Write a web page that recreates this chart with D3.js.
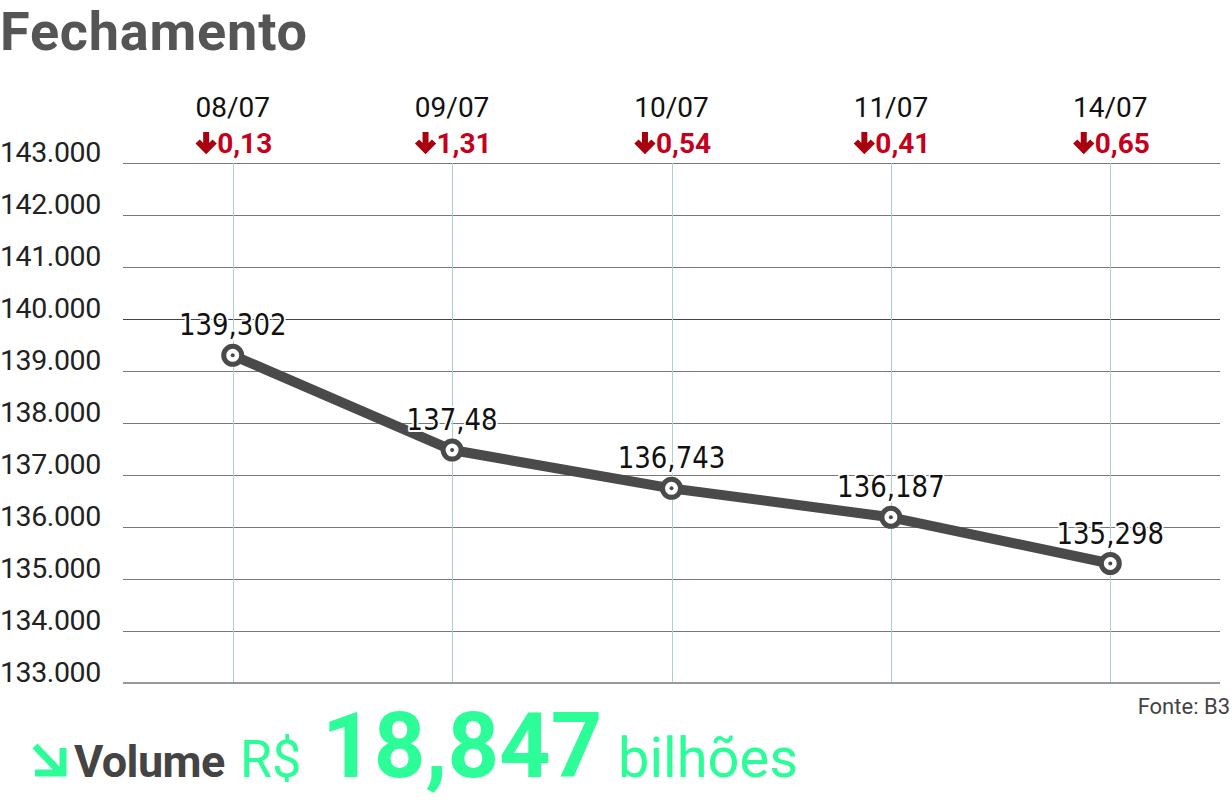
<!DOCTYPE html>
<html><head><meta charset="utf-8">
<script src="https://cdn.jsdelivr.net/npm/d3@7"></script>
<style>
html,body{margin:0;padding:0;background:#fff;}
svg{display:block;}
</style></head>
<body>
<script>
const title = "Fechamento";
const dates = ["08/07","09/07","10/07","11/07","14/07"];
const changes = ["0,13","1,31","0,54","0,41","0,65"];
const closes = [139302, 137480, 136743, 136187, 135298];
const yTicks = [133000,134000,135000,136000,137000,138000,139000,140000,141000,142000,143000];
const source = "Fonte: B3";
const volumeLabel = "Volume";
const volumeCurrency = "R$";
const volumeValue = "18,847";
const volumeUnit = "bilhões";

const W = 1232, H = 803;
const loc = d3.formatLocale({decimal:",", thousands:".", grouping:[3], currency:["R$",""]});
const fmtTick = loc.format(",d");
const fmtPt = loc.format(".3~f");

const svg = d3.select("body").append("svg").attr("width",W).attr("height",H);
const x = d3.scalePoint().domain(dates).range([123,1220]).padding(0.5);
const y = d3.scaleLinear().domain([133000,143000]).range([683,163]);

// title
svg.append("text").attr("x",0).attr("y",50).text(title)
  .attr("font-family","Roboto").attr("font-weight",700).attr("font-size",54)
  .attr("letter-spacing",0.8).attr("fill","#555");

// horizontal grid
const g = svg.append("g");
g.selectAll("line.h").data(yTicks.filter(d=>d>133000)).join("line")
  .attr("x1",123).attr("x2",1220).attr("y1",d=>Math.round(y(d))+0.5).attr("y2",d=>Math.round(y(d))+0.5)
  .attr("stroke",d=>d===140000?"#444":"#777").attr("stroke-width",1);
// vertical grid
g.selectAll("line.v").data(dates).join("line")
  .attr("x1",d=>Math.round(x(d))+0.5).attr("x2",d=>Math.round(x(d))+0.5)
  .attr("y1",y(143000)).attr("y2",y(133000))
  .attr("stroke","#a9d3c9").attr("stroke-width",1);
// bottom axis line
g.append("line").attr("x1",123).attr("x2",1220).attr("y1",y(133000)).attr("y2",y(133000))
  .attr("stroke","#999").attr("stroke-width",2);

// y tick labels
g.selectAll("text.yt").data(yTicks).join("text")
  .attr("x",0).attr("y",d=>y(d)-1).text(d=>fmtTick(d))
  .attr("font-family","Roboto").attr("font-size",28.5).attr("letter-spacing",-0.4).attr("fill","#222");

// date header
const hdr = svg.append("g").selectAll("g").data(dates).join("g")
  .attr("transform",d=>`translate(${x(d)},0)`);
hdr.append("text").attr("y",117).attr("text-anchor","middle").text(d=>d)
  .attr("font-family","Roboto").attr("font-size",28).attr("fill","#111");
hdr.append("text").attr("class","chg").attr("x",12).attr("y",153).attr("text-anchor","middle").text((d,i)=>changes[i])
  .attr("font-family","Roboto").attr("font-weight",700).attr("font-size",28).attr("fill","#c4001d");
// red arrows
hdr.append("path")
  .attr("transform",function(){
    const bb = d3.select(this.parentNode).select("text.chg").node().getBBox();
    return `translate(${bb.x-11},${142})`;
  })
  .attr("d","M0,-10 L0,8 M-8.5,-0.5 L0,8 L8.5,-0.5")
  .attr("fill","none").attr("stroke","#a8000f").attr("stroke-width",6)
  .attr("stroke-linejoin","miter").attr("stroke-linecap","butt");

// line
const pts = dates.map((d,i)=>[x(d), y(closes[i])]);
svg.append("path").attr("d",d3.line()(pts))
  .attr("fill","none").attr("stroke","#4a4a4a").attr("stroke-width",10).attr("stroke-linejoin","round");

// markers
const mk = svg.append("g").selectAll("g").data(dates).join("g")
  .attr("transform",(d,i)=>`translate(${x(d)},${y(closes[i])})`);
mk.append("circle").attr("r",9).attr("fill","#fff").attr("stroke","#4a4a4a").attr("stroke-width",5);
mk.append("circle").attr("r",2).attr("fill","#4a4a4a");

// point labels (condensed look)
mk.append("text").attr("y",-20).attr("text-anchor","middle").attr("transform","scale(0.84,1)")
  .text((d,i)=>fmtPt(closes[i]/1000))
  .attr("font-family","'DejaVu Sans'")
  .attr("font-size",31).attr("fill","#111")
  .attr("stroke","#fff").attr("stroke-width",4).attr("paint-order","stroke").attr("stroke-linejoin","round");

// source
svg.append("text").attr("x",1230).attr("y",714).attr("text-anchor","end").text(source)
  .attr("font-family","Roboto").attr("font-size",22).attr("fill","#444");

// volume line
const green = "#2cfd99";
svg.append("path").attr("d","M35,746 L59,771 M35,773 L63,773 L63,748")
  .attr("fill","none").attr("stroke",green).attr("stroke-width",7);
const vt = svg.append("text").attr("y",777).attr("font-family","Roboto");
vt.append("tspan").attr("x",74).text(volumeLabel).attr("font-weight",700).attr("font-size",45).attr("fill","#444").attr("letter-spacing",-0.6);
vt.append("tspan").attr("x",240).text(volumeCurrency).attr("font-size",52).attr("fill",green);
vt.append("tspan").attr("x",322).text(volumeValue).attr("font-weight",700).attr("font-size",90).attr("fill",green);
vt.append("tspan").attr("x",618).text(volumeUnit).attr("font-size",56).attr("fill",green);
</script>
</body></html>
